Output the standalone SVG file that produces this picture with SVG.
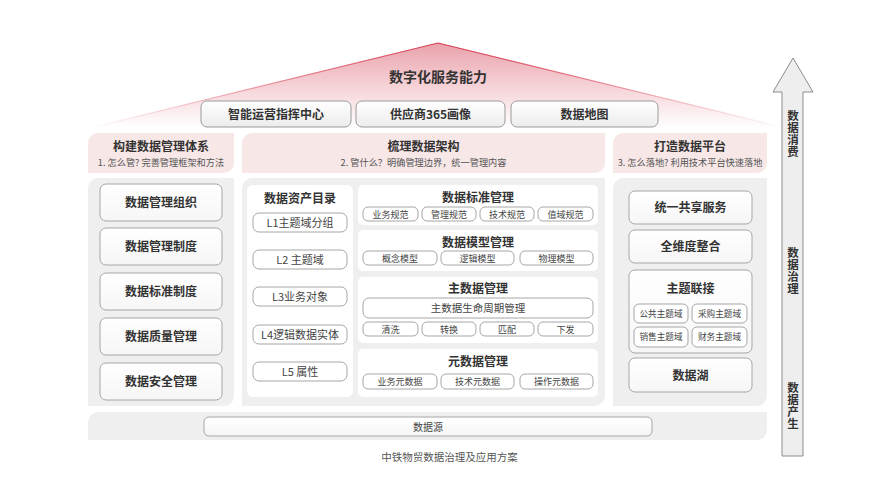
<svg xmlns="http://www.w3.org/2000/svg" width="896" height="489" viewBox="0 0 896 489">
<style>
text{font-family:"Noto Sans CJK SC","Liberation Sans",sans-serif;fill:#333;text-anchor:middle}
.t14{font-size:14px;font-weight:bold}
.t12{font-size:12px;font-weight:bold}
.t11{font-size:11px;fill:#444}
.t10{font-size:10.5px;fill:#444}
.t9{font-size:9px;fill:#444}
.t85{font-size:8.6px;fill:#444}
.sub{font-size:9.2px;fill:#555}
.vt{font-size:11.5px;font-weight:bold;writing-mode:vertical-rl;text-anchor:start;letter-spacing:0.3px}
.hdr{fill:#f7e7e7}
.pnl{fill:#efefef}
.box{fill:url(#gBox);stroke:#a6a6a6;stroke-width:1}
.pill{fill:#fff;stroke:#a6a6a6;stroke-width:1}
.inner{fill:#fff}
.top{fill:url(#gTop);stroke:#9a9a9a;stroke-width:1}
</style>
<defs>
<linearGradient id="gRoof" x1="0" y1="43" x2="0" y2="128" gradientUnits="userSpaceOnUse">
<stop offset="0" stop-color="#e9a2ab"/>
<stop offset="0.55" stop-color="#f6d6da"/>
<stop offset="1" stop-color="#ffffff"/>
</linearGradient>
<linearGradient id="gEdge" x1="90" y1="0" x2="786" y2="0" gradientUnits="userSpaceOnUse">
<stop offset="0" stop-color="#d8394d" stop-opacity="0"/>
<stop offset="0.5" stop-color="#d8394d" stop-opacity="1"/>
<stop offset="1" stop-color="#d8394d" stop-opacity="0"/>
</linearGradient>
<linearGradient id="gTop" x1="0" y1="0" x2="0" y2="1">
<stop offset="0" stop-color="#ffffff"/>
<stop offset="1" stop-color="#ececec"/>
</linearGradient>
<linearGradient id="gBox" x1="0" y1="0" x2="0" y2="1">
<stop offset="0" stop-color="#ffffff"/>
<stop offset="1" stop-color="#f6f6f6"/>
</linearGradient>
</defs>

<g id="roof">
<polygon points="438,43 90,128 786,128" fill="url(#gRoof)"/>
<polyline points="90,128 438,43 786,128" fill="none" stroke="url(#gEdge)" stroke-width="1.2"/>
<text class="t14" x="438" y="82">数字化服务能力</text>
</g>

<g id="top-1"><rect class="top" x="201" y="101" width="150" height="26" rx="6"/><text class="t12" x="276" y="118.5">智能运营指挥中心</text></g>
<g id="top-2"><rect class="top" x="356" y="101" width="149" height="26" rx="6"/><text class="t12" x="430.5" y="118.5">供应商365画像</text></g>
<g id="top-3"><rect class="top" x="511" y="101" width="147" height="26" rx="6"/><text class="t12" x="584.5" y="118.5">数据地图</text></g>

<g id="header-left">
<path class="hdr" d="M98,133 H234 V163 A10,10 0 0 1 224,173 H88 V143 A10,10 0 0 1 98,133 Z"/>
<text class="t12" x="161" y="150.5">构建数据管理体系</text>
<text class="sub" x="161" y="166">1. 怎么管? 完善管理框架和方法</text>
</g>
<g id="header-mid">
<path class="hdr" d="M252,133 H605 V163 A10,10 0 0 1 595,173 H242 V143 A10,10 0 0 1 252,133 Z"/>
<text class="t12" x="423.5" y="150.5">梳理数据架构</text>
<text class="sub" x="423.5" y="166">2. 管什么？明确管理边界，统一管理内容</text>
</g>
<g id="header-right">
<path class="hdr" d="M623,133 H767 V163 A10,10 0 0 1 757,173 H613 V143 A10,10 0 0 1 623,133 Z"/>
<text class="t12" x="690" y="150.5">打造数据平台</text>
<text class="sub" x="690" y="166">3. 怎么落地? 利用技术平台快速落地</text>
</g>

<g id="panel-left">
<path class="pnl" d="M98,178 H234 V396 A10,10 0 0 1 224,406 H88 V188 A10,10 0 0 1 98,178 Z"/>
</g>
<g id="panel-mid">
<path class="pnl" d="M252,178 H605 V396 A10,10 0 0 1 595,406 H242 V188 A10,10 0 0 1 252,178 Z"/>
</g>
<g id="panel-right">
<path class="pnl" d="M623,178 H767 V396 A10,10 0 0 1 757,406 H613 V188 A10,10 0 0 1 623,178 Z"/>
</g>

<g id="left-1"><rect class="box" x="100" y="184" width="122" height="37" rx="6"/><text class="t12" x="161" y="207">数据管理组织</text></g>
<g id="left-2"><rect class="box" x="100" y="228" width="122" height="37" rx="6"/><text class="t12" x="161" y="251">数据管理制度</text></g>
<g id="left-3"><rect class="box" x="100" y="273" width="122" height="37" rx="6"/><text class="t12" x="161" y="296">数据标准制度</text></g>
<g id="left-4"><rect class="box" x="100" y="318" width="122" height="37" rx="6"/><text class="t12" x="161" y="341">数据质量管理</text></g>
<g id="left-5"><rect class="box" x="100" y="363" width="122" height="37" rx="6"/><text class="t12" x="161" y="386">数据安全管理</text></g>

<g id="catalog">
<rect class="inner" x="247" y="185" width="106" height="212" rx="6"/>
<text class="t12" x="300" y="202.5">数据资产目录</text>
<rect class="pill" x="253" y="213" width="94" height="19" rx="6"/><text class="t11" x="300" y="226.5">L1主题域分组</text>
<rect class="pill" x="253" y="250" width="94" height="19" rx="6"/><text class="t11" x="300" y="263.5">L2 主题域</text>
<rect class="pill" x="253" y="287" width="94" height="19" rx="6"/><text class="t11" x="300" y="300.5">L3业务对象</text>
<rect class="pill" x="253" y="325" width="94" height="19" rx="6"/><text class="t11" x="300" y="338.5">L4逻辑数据实体</text>
<rect class="pill" x="253" y="362" width="94" height="19" rx="6"/><text class="t11" x="300" y="375.5">L5 属性</text>
</g>

<g id="std-mgmt">
<rect class="inner" x="358" y="185" width="240" height="40" rx="5"/>
<text class="t12" x="478" y="201.5">数据标准管理</text>
<rect class="pill" x="363" y="207" width="55" height="14" rx="5"/><text class="t9" x="390.5" y="217.5">业务规范</text>
<rect class="pill" x="422" y="207" width="54" height="14" rx="5"/><text class="t9" x="449" y="217.5">管理规范</text>
<rect class="pill" x="480" y="207" width="54" height="14" rx="5"/><text class="t9" x="507" y="217.5">技术规范</text>
<rect class="pill" x="538" y="207" width="55" height="14" rx="5"/><text class="t9" x="565.5" y="217.5">值域规范</text>
</g>

<g id="model-mgmt">
<rect class="inner" x="358" y="230" width="240" height="41" rx="5"/>
<text class="t12" x="478" y="246.5">数据模型管理</text>
<rect class="pill" x="363" y="251" width="74" height="14" rx="5"/><text class="t9" x="400" y="261.5">概念模型</text>
<rect class="pill" x="441" y="251" width="73" height="14" rx="5"/><text class="t9" x="477.5" y="261.5">逻辑模型</text>
<rect class="pill" x="520" y="251" width="73" height="14" rx="5"/><text class="t9" x="556.5" y="261.5">物理模型</text>
</g>

<g id="master-mgmt">
<rect class="inner" x="358" y="277" width="240" height="66" rx="5"/>
<text class="t12" x="478" y="292.5">主数据管理</text>
<rect class="pill" x="363" y="298" width="230" height="20" rx="6"/><text class="t10" x="478" y="311.8">主数据生命周期管理</text>
<rect class="pill" x="363" y="322" width="55" height="14" rx="5"/><text class="t9" x="390.5" y="332.5">清洗</text>
<rect class="pill" x="422" y="322" width="54" height="14" rx="5"/><text class="t9" x="449" y="332.5">转换</text>
<rect class="pill" x="480" y="322" width="54" height="14" rx="5"/><text class="t9" x="507" y="332.5">匹配</text>
<rect class="pill" x="538" y="322" width="55" height="14" rx="5"/><text class="t9" x="565.5" y="332.5">下发</text>
</g>

<g id="meta-mgmt">
<rect class="inner" x="358" y="349" width="240" height="48" rx="5"/>
<text class="t12" x="478" y="365.5">元数据管理</text>
<rect class="pill" x="363" y="374" width="74" height="15" rx="5"/><text class="t9" x="400" y="384.8">业务元数据</text>
<rect class="pill" x="441" y="374" width="73" height="15" rx="5"/><text class="t9" x="477.5" y="384.8">技术元数据</text>
<rect class="pill" x="520" y="374" width="73" height="15" rx="5"/><text class="t9" x="556.5" y="384.8">操作元数据</text>
</g>

<g id="right-1"><rect class="box" x="629" y="191" width="123" height="33" rx="6"/><text class="t12" x="690.5" y="212">统一共享服务</text></g>
<g id="right-2"><rect class="box" x="629" y="230" width="123" height="33" rx="6"/><text class="t12" x="690.5" y="251">全维度整合</text></g>
<g id="right-3">
<rect class="box" x="629" y="270" width="123" height="83" rx="6"/>
<text class="t12" x="690.5" y="293">主题联接</text>
<rect class="pill" x="634" y="304" width="54" height="19" rx="5"/><text class="t85" x="661" y="316.8">公共主题域</text>
<rect class="pill" x="692" y="304" width="55" height="19" rx="5"/><text class="t85" x="719.5" y="316.8">采购主题域</text>
<rect class="pill" x="634" y="327" width="54" height="20" rx="5"/><text class="t85" x="661" y="340.3">销售主题域</text>
<rect class="pill" x="692" y="327" width="55" height="20" rx="5"/><text class="t85" x="719.5" y="340.3">财务主题域</text>
</g>
<g id="right-4"><rect class="box" x="629" y="358" width="123" height="34" rx="6"/><text class="t12" x="690.5" y="379.5">数据湖</text></g>

<g id="source-band">
<path class="pnl" d="M98,412 H767 V430 A10,10 0 0 1 757,440 H88 V422 A10,10 0 0 1 98,412 Z"/>
<rect class="box" x="204" y="417" width="448" height="19" rx="5"/>
<text class="t10" x="428" y="430.5" style="font-size:10px">数据源</text>
</g>

<g id="flow-arrow">
<polygon points="793,58 813,92 803,92 803,456 782,456 782,92 773,92" fill="#eeeeee" stroke="#8c8c8c" stroke-width="1"/>
<text class="vt" x="793" y="110">数据消费</text>
<text class="vt" x="793" y="247">数据治理</text>
<text class="vt" x="793" y="382">数据产生</text>
</g>

<g id="connectors"></g>

<text x="449.5" y="461" style="font-size:10.5px;fill:#555">中铁物贸数据治理及应用方案</text>
</svg>
